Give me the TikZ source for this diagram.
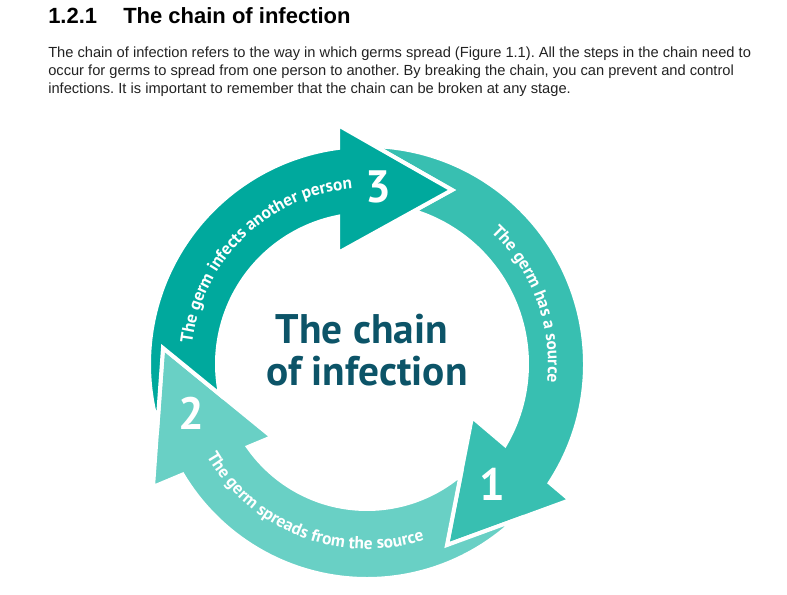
\documentclass[tikz,border=0pt]{standalone}
\usepackage{fontspec}
\setmainfont{Liberation Sans}
\newfontfamily\chainfont{PT Sans}
\usepackage{xcolor}
\usepackage{tikz}
\usetikzlibrary{decorations.text}
\definecolor{ChainDark}{HTML}{00A99D}
\definecolor{ChainMid}{HTML}{38BFB1}
\definecolor{ChainLight}{HTML}{69D0C5}
\definecolor{ChainInk}{HTML}{0C5468}
\definecolor{BodyInk}{HTML}{222222}
\frenchspacing

\begin{document}
\begin{tikzpicture}[
    x=0.75pt, y=0.75pt,
    chainarrow/.style={draw=white, line width=3pt, line join=miter},
    steptext/.style={decorate, decoration={text along path, text align=center,
      text color=white, text={|\chainfont\bfseries\fontsize{13}{14}\selectfont|#1}}},
    stepnum/.style={text=white, inner sep=0pt, font=\chainfont\bfseries\fontsize{34}{34}\selectfont},
    heading/.style={anchor=base west, inner sep=0pt, font=\bfseries\fontsize{16.5}{18}\selectfont},
    para/.style={anchor=base west, inner sep=0pt, text=BodyInk, font=\fontsize{11}{13}\selectfont},
    hub/.style={anchor=base, inner sep=0pt, text=ChainInk, font=\chainfont\bfseries\fontsize{31}{33}\selectfont}
  ]
    \useasboundingbox (-367,-230) rectangle (420,364);

    % heading and text
    \node[heading] (secnum) at (-319,341) {1.2.1};
    \node[heading] (sectitle) at (-244,341) {The chain of infection};
    \node[para] (lineA) at (-319,307) {The chain of infection refers to the way in which germs spread (Figure 1.1). All the steps in the chain need to};
    \node[para] (lineB) at (-319,289) {occur for germs to spread from one person to another. By breaking the chain, you can prevent and control};
    \node[para] (lineC) at (-319,271) {infections. It is important to remember that the chain can be broken at any stage.};

    % the three arrows
    \path[chainarrow, fill=ChainMid] (87.9:218) -- (85,174) -- (73:160)
      arc[start angle=73, end angle=-30.4, radius=160] -- (105,-53) -- (80,-181) -- (203,-136)
      -- (-33.04:218) arc[start angle=-33.04, end angle=87.9, radius=218] -- cycle;
    \path[chainarrow, fill=ChainLight] (-46.6:215) -- (80,-181) -- (-49.7:145)
      arc[start angle=-49.7, end angle=-145.1, radius=145] -- (-95,-73) -- (-204,16) -- (-214,-123)
      -- (-149.05:215) arc[start angle=-149.05, end angle=-46.6, radius=215] -- cycle;
    \path[chainarrow, fill=ChainDark] (196.06:218) -- (-204,16) -- (191.8:150)
      arc[start angle=191.8, end angle=101.1, radius=150] -- (-29,111) -- (85,174) -- (-29,239)
      -- (97.6:218) arc[start angle=97.6, end angle=196.06, radius=218] -- cycle;

    % labels on the arrows
    \path[steptext={The germ has a source}] (50:181) arc[start angle=50, end angle=-9, radius=181];
    \path[steptext={The germ spreads from the source}] (198:185) arc[start angle=198, end angle=300, radius=185];
    \path[steptext={The germ infects another person}] (182:176) arc[start angle=182, end angle=86, radius=176];

    \node[stepnum] (one) at (125,-120) {1};
    \node[stepnum] (two) at (-176,-49) {2};
    \node[stepnum] (three) at (11,177) {3};

    \node[hub] (hubA) at (-5,21) {The chain};
    \node[hub] (hubB) at (0,-21) {of infection};
  \end{tikzpicture}
\end{document}
